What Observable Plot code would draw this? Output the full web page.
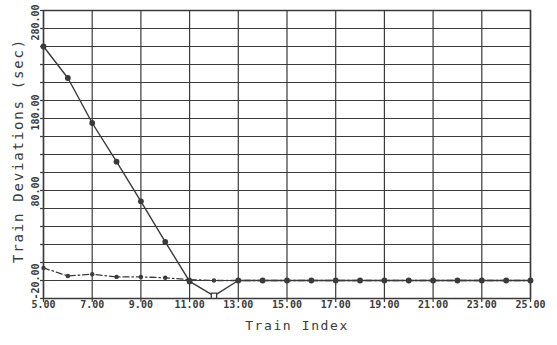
<!DOCTYPE html>
<html>
<head>
<meta charset="utf-8">
<script src="https://cdn.jsdelivr.net/npm/d3@7"></script>
<script src="https://cdn.jsdelivr.net/npm/@observablehq/plot@0.6"></script>
<style>
  html, body { margin: 0; padding: 0; background: #ffffff; }
  #chart { width: 557px; height: 345px; }
</style>
</head>
<body>
<div id="chart"></div>
<script>
// ---- data ----
const trainIndex = [5, 6, 7, 8, 9, 10, 11, 12, 13, 14, 15, 16, 17, 18, 19, 20, 21, 22, 23, 24, 25];
const solidDeviation = [240, 205, 155, 112, 68, 23, -21, -37, -20, -20, -20, -20, -20, -20, -20, -20, -20, -20, -20, -20, -20];
const dashedDeviation = [-6, -15, -13, -16, -16, -17, -19, -20, -20, -20, -20, -20, -20, -20, -20, -20, -20, -20, -20, -20, -20];
const openMarkerIndex = [12];

const xGridTicks = [5, 7, 9, 11, 13, 15, 17, 19, 21, 23, 25];
const xTickLabels = [5, 7, 9, 11, 13, 15, 17, 19, 21, 23, 25];
const yGridTicks = [-40, -20, 0, 20, 40, 60, 80, 100, 120, 140, 160, 180, 200, 220, 240, 260, 280];
const yTickLabelsLow = [-20, 80];
const yTickLabelsHigh = [180, 280];
const xTitle = "Train Index";
const yTitle = "Train Deviations (sec)";

const solid = trainIndex.map((x, i) => ({x, y: solidDeviation[i]}));
const dashed = trainIndex.map((x, i) => ({x, y: dashedDeviation[i]}));

const ink = "#3a3a3a";
const mono = "'DejaVu Sans Mono', 'Liberation Mono', monospace";
const fmt = d => d.toFixed(2);

const chart = Plot.plot({
  width: 557,
  height: 345,
  marginLeft: 43,
  marginRight: 27,
  marginTop: 10,
  marginBottom: 47,
  style: {fontFamily: mono, background: "#ffffff", color: ink},
  x: {domain: [5, 25], axis: null},
  y: {domain: [-40, 280], axis: null},
  marks: [
    Plot.gridX(xGridTicks, {stroke: ink, strokeOpacity: 1, strokeWidth: 1.2}),
    Plot.gridY(yGridTicks, {stroke: ink, strokeOpacity: 1, strokeWidth: 1.2}),
    Plot.axisX({ticks: xGridTicks, tickSize: 4, tickFormat: () => "", label: null, stroke: ink, strokeWidth: 1.2}),
    Plot.axisY({ticks: yGridTicks, tickSize: 3, tickFormat: () => "", label: null, stroke: ink, strokeWidth: 1.2}),
    Plot.frame({stroke: ink, strokeWidth: 1.5}),
    Plot.line(dashed, {x: "x", y: "y", stroke: ink, strokeWidth: 1.3, strokeDasharray: "6,3,1.5,3"}),
    Plot.line(solid, {x: "x", y: "y", stroke: ink, strokeWidth: 1.4}),
    Plot.dot(dashed.filter(d => d.x <= 12), {x: "x", y: "y", r: 2.2, fill: ink, stroke: "none"}),
    Plot.dot(solid.filter(d => !openMarkerIndex.includes(d.x)), {x: "x", y: "y", r: 2.9, fill: ink, stroke: "none"}),
    Plot.dot(solid.filter(d => openMarkerIndex.includes(d.x)), {x: "x", y: "y", r: 3, symbol: "square", fill: "#ffffff", stroke: ink, strokeWidth: 1.3}),
    Plot.text(xTickLabels, {x: d => d, text: fmt, frameAnchor: "bottom", dy: 9, fontSize: 10, fill: ink, fontWeight: "bold"}),
    Plot.text(yTickLabelsLow, {y: d => d, text: fmt, frameAnchor: "left", dx: -8, dy: 1, rotate: -90, textAnchor: "middle", fontSize: 10, fill: ink, fontWeight: "bold"}),
    Plot.text(yTickLabelsHigh, {y: d => d, text: fmt, frameAnchor: "left", dx: -8, dy: 12, rotate: -90, textAnchor: "middle", fontSize: 10, fill: ink, fontWeight: "bold"}),
    Plot.text([xTitle], {text: d => d, frameAnchor: "bottom", dx: 10, dy: 31, textAnchor: "middle", fontSize: 13, fill: ink}),
    Plot.text([yTitle], {text: d => d, frameAnchor: "left", dx: -25, dy: -4, rotate: -90, textAnchor: "middle", fontSize: 14, fill: ink})
  ]
});

d3.select(chart).selectAll("text")
  .filter(function() { return this.textContent === xTitle; })
  .style("letter-spacing", "1.6px");
d3.select(chart).selectAll("text")
  .filter(function() { return this.textContent === yTitle; })
  .style("letter-spacing", "1.8px");

document.getElementById("chart").appendChild(chart);
</script>
</body>
</html>
